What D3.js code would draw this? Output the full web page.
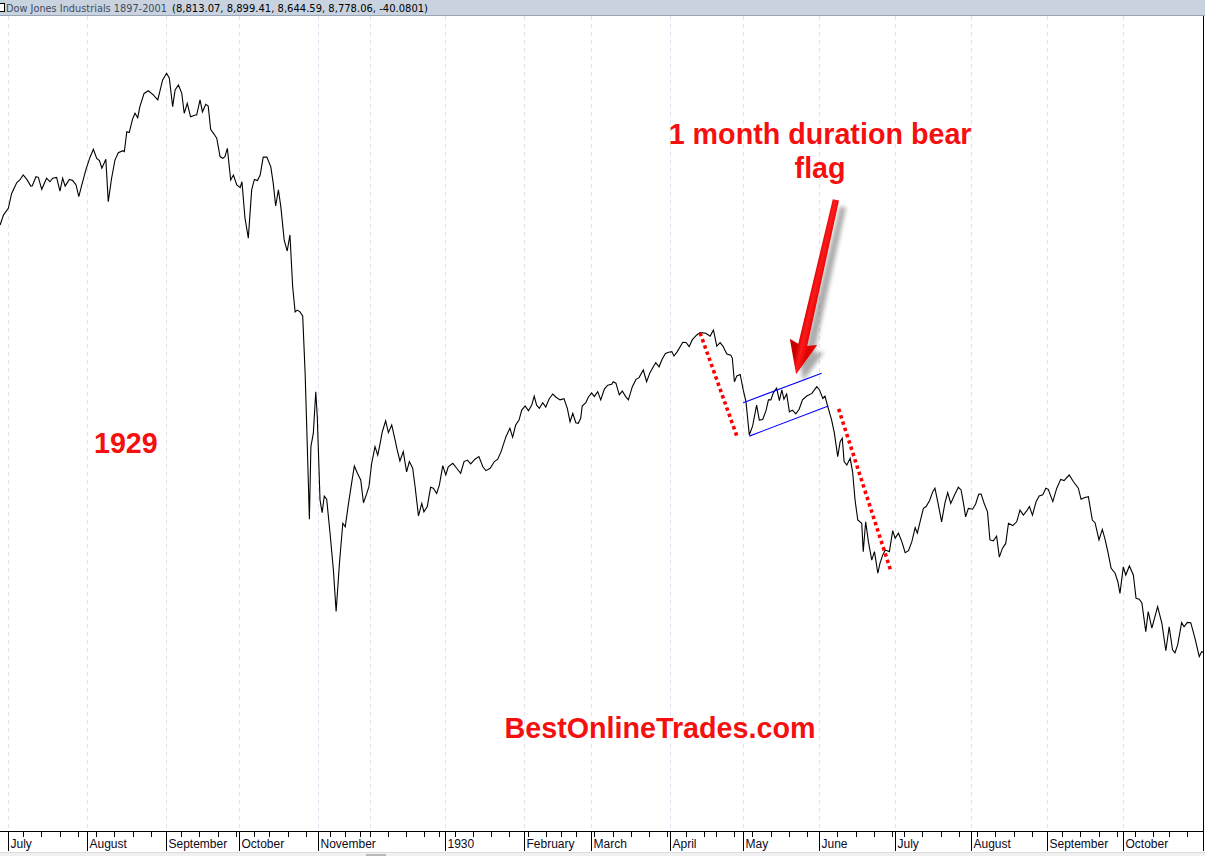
<!DOCTYPE html>
<html><head><meta charset="utf-8">
<script src="https://cdn.jsdelivr.net/npm/d3@7"></script>
<style>html,body{margin:0;padding:0;background:#fff;overflow:hidden}</style>
</head><body><svg id="chart" width="1205" height="856"></svg>
<script>
// ---------------- DATA ----------------
// trading-day index (0 = 1 July 1929) of each traced close
const tradingDay = [
-2.6,-1.5,0.1,1.2,2.9,3.9,5.0,6.2,7.5,8.0,
9.2,10.0,11.1,12.7,13.8,14.7,16.0,17.1,18.0,18.8,
20.2,21.3,22.4,23.3,24.3,25.7,27.0,28.1,29.2,30.1,
30.9,32.2,33.0,34.1,35.2,36.3,37.8,38.3,39.1,39.9,
41.0,41.8,42.7,43.4,44.8,46.2,47.8,49.3,50.9,52.2,
53.1,54.2,55.0,56.1,57.2,58.0,59.0,60.1,61.6,62.1,
63.2,64.0,65.1,65.9,66.7,67.8,68.7,69.8,70.7,71.4,
72.2,73.3,74.2,75.3,76.4,77.0,78.0,79.1,80.2,81.1,
82.1,83.0,84.0,85.2,86.5,87.3,88.1,89.0,89.8,90.9,
91.9,92.8,93.7,94.5,95.2,96.1,97.0,97.8,98.5,99.2,
99.7,100.5,101.3,101.8,102.7,103.4,104.1,104.9,106.0,107.1,
108.0,109.1,110.2,111.0,112.0,113.1,114.0,115.0,116.1,117.0,
118.1,118.8,119.7,120.8,121.7,122.4,123.2,124.3,125.2,126.3,
127.4,128.1,129.0,130.1,131.2,132.1,133.2,134.0,135.1,136.2,
136.9,138.0,139.1,140.0,141.1,142.0,143.1,144.1,144.9,146.4,
147.7,149.0,150.1,151.2,152.3,153.7,155.0,156.3,157.3,158.7,
160.1,161.2,162.3,163.9,165.2,166.1,167.1,168.2,169.1,170.2,
171.3,172.4,173.2,174.0,174.9,176.0,177.0,178.1,179.3,180.4,
181.7,183.0,184.1,185.0,185.9,186.9,187.7,188.5,189.0,190.2,
191.0,192.1,193.0,194.1,195.1,196.3,197.4,198.7,199.2,200.1,
201.2,202.2,203.3,204.2,205.5,206.7,207.7,209.1,210.2,211.3,
212.4,213.2,214.3,215.3,216.4,217.5,218.5,219.2,220.3,222.1,
223.2,224.2,225.2,226.7,227.8,229.7,231.1,232.2,233.3,234.4,
235.3,236.6,237.9,238.4,239.1,239.9,241.0,242.0,242.9,244.0,
245.1,246.4,247.3,248.4,249.5,250.3,251.1,251.9,253.0,253.9,
254.7,255.4,256.3,257.2,258.2,259.3,260.4,261.5,262.9,264.6,
266.2,267.1,268.2,268.9,270.0,271.1,272.0,273.1,273.9,274.6,
275.2,276.1,277.2,278.0,278.8,279.7,281.0,281.5,282.3,283.2,
284.3,285.2,286.3,287.0,287.9,288.7,289.4,290.1,291.2,292.0,
293.1,294.2,295.3,296.4,297.5,298.6,299.3,300.2,301.3,302.2,
303.3,304.4,305.1,305.9,307.3,308.4,309.3,310.3,311.4,312.8,
313.7,314.5,315.2,316.1,317.5,318.5,319.5,320.3,321.3,322.4,
323.2,324.3,325.4,326.3,327.3,328.4,329.3,330.7,332.0,333.1,
334.2,335.3,336.2,337.2,338.4,339.4,340.6,341.6,342.4,343.9,
345.2,346.5,347.6,349.3,350.7,352.3,353.2,354.2,355.6,356.9,
357.8,359.1,360.2,361.1,362.0,363.1,364.4,365.3,366.0,367.1,
367.9,369.1,370.4,371.3,372.3,373.2,374.5,375.3,376.5,378.4,
379.8,381.1,382.2,383.3,384.1,385.0,386.3,387.1,388.2,389.3,
390.7,392.1,392.9,394.0];

// Dow Jones Industrial Average close
const dow = [
329.7,333.1,335.4,340.5,344.2,345.1,346.8,345.3,343.0,343.1,
346.2,346.0,341.9,345.7,344.5,345.7,346.0,341.3,345.7,343.0,
345.3,344.9,343.4,339.4,343.4,348.8,352.9,355.6,352.5,351.7,
349.1,352.2,337.7,345.7,351.9,354.4,355.1,354.8,361.6,361.3,
365.9,367.9,366.4,370.2,374.7,375.6,374.2,372.5,379.3,381.6,
379.9,370.2,375.9,377.6,374.7,367.9,371.3,366.7,367.3,367.3,
372.5,368.4,371.0,370.4,362.4,360.8,359.4,353.1,352.5,353.1,
355.9,345.1,346.8,343.4,342.5,344.5,332.1,325.2,341.7,345.3,
344.9,346.8,352.9,352.9,349.6,344.0,336.2,341.7,336.0,324.6,
320.8,326.3,308.6,300.0,300.6,300.0,298.6,279.0,254.5,229.1,
253.9,258.5,272.7,264.1,235.7,231.3,237.0,235.9,224.3,211.7,
197.5,214.0,227.7,226.5,233.9,241.4,247.3,244.8,242.5,234.7,
237.9,240.2,248.2,253.9,251.0,254.5,259.0,262.7,258.7,261.3,
256.2,252.8,249.0,252.2,245.3,248.8,246.5,240.2,230.2,234.5,
231.6,233.4,240.0,239.7,237.9,240.8,247.4,244.2,247.0,248.2,
246.5,244.8,248.8,249.3,248.0,249.6,250.5,247.0,245.7,246.5,
248.8,249.6,252.2,257.3,260.2,257.1,261.3,263.0,266.4,267.8,
266.2,268.1,271.2,268.1,267.0,268.9,267.4,270.2,271.9,270.8,
269.9,270.3,267.0,262.4,265.3,262.1,261.9,263.6,267.8,268.9,
270.8,272.3,271.0,272.7,269.9,273.6,274.9,275.2,276.1,275.6,
271.6,272.9,271.0,269.9,274.4,276.9,277.5,280.1,276.1,279.2,
281.2,282.6,281.2,283.8,285.8,286.2,286.4,284.9,286.4,289.6,
289.5,288.1,290.4,292.1,292.9,292.7,291.7,293.8,288.3,289.5,
288.3,285.6,285.2,284.2,276.1,278.1,278.6,273.3,269.3,257.9,
261.0,268.1,263.0,263.2,266.2,269.9,269.9,272.3,273.9,269.6,
273.3,270.1,271.9,265.8,266.4,265.1,266.7,269.9,271.2,272.1,
274.4,273.3,270.4,271.2,267.0,263.0,258.5,250.5,255.6,256.8,
248.8,247.6,249.9,245.3,235.7,228.8,227.7,218.0,228.2,221.4,
215.1,218.0,210.6,214.0,216.8,218.5,218.3,218.0,225.2,222.6,
224.3,221.4,217.6,218.3,221.4,226.2,224.3,228.2,232.8,233.4,
235.4,238.5,239.7,235.7,228.2,234.7,238.2,234.5,237.0,240.0,
239.1,234.5,229.9,232.8,232.5,234.3,237.6,237.7,234.5,231.6,
222.0,221.7,223.3,216.1,219.1,220.8,227.7,226.9,228.2,232.2,
230.5,231.9,233.4,230.5,235.1,237.0,237.4,239.7,239.3,235.1,
239.7,242.7,242.3,244.2,241.9,239.7,235.9,236.4,236.8,228.8,
227.9,222.0,225.6,222.2,218.0,212.3,210.6,207.7,203.7,212.8,
210.0,213.1,210.0,202.0,201.7,200.5,190.6,197.5,191.8,199.2,
193.5,184.1,192.3,184.4,183.4,186.1,193.7,192.3,193.8,193.7,
188.3,182.1,183.8,183.4];

// month labels on the time axis (December 1929 has no label on the original)
const monthLabels = ["July","August","September","October","November","","1930","February","March","April","May","June","July","August","September","October"];

// exchange closures (Sundays are always closed)
const holidays = ["1929-07-04","1929-08-31","1929-09-02","1929-10-12","1929-11-01","1929-11-02","1929-11-05","1929-11-09","1929-11-16","1929-11-23","1929-11-28","1929-11-29","1929-11-30","1929-12-25","1930-01-01","1930-02-12","1930-02-22","1930-04-18","1930-04-19","1930-05-30","1930-05-31","1930-07-04","1930-07-05","1930-08-30","1930-09-01","1930-10-13"];

const headerTitle = "Dow Jones Industrials 1897-2001";
const headerValues = "(8,813.07, 8,899.41, 8,644.59, 8,778.06, -40.0801)";

// annotations: [tradingDay, dow]
const dropLines = [[[227.8,292.8],[240.0,257.2]], [[273.4,266.8],[290.7,211.0]]];
const flagChannel = [[[242.0,268.9],[267.8,279.0]], [[244.0,257.5],[270.0,267.8]]];
const arrowTail = [272.5,338.3];
const arrowTip = [259.4,278.7];
const noteTexts = ["1 month duration bear","flag","1929","BestOnlineTrades.com"];
const noteDays  = [267.3,267.3,38.8,214.6];
const noteDow   = [357.4,345.8,251.7,154.3];

// ---------------- LAYOUT ----------------
const W = 1205, H = 856, headerH = 16, axisY = 831, plotRight = 1203;
const svg = d3.select("#chart");
const x = d3.scaleLinear().domain([0,367]).range([8,1123]);
const y = d3.scaleLinear().domain([122.45,406.65]).range([axisY,0]);

// trading calendar
const fmt = d3.timeFormat("%Y-%m-%d");
const hol = new Set(holidays);
const days = d3.timeDay.range(new Date(1929,6,1), new Date(1930,10,1))
  .filter(d => d.getDay() !== 0 && !hol.has(fmt(d)));
const monthStarts = [], weekStarts = [];
days.forEach((d,i) => {
  if (i === 0 || d.getMonth() !== days[i-1].getMonth()) monthStarts.push(i);
  if (i === 0 || +d3.timeMonday.floor(d) !== +d3.timeMonday.floor(days[i-1])) weekStarts.push(i);
});

const defs = svg.append("defs");
defs.append("clipPath").attr("id","plotClip").append("rect")
  .attr("x",0).attr("y",headerH).attr("width",plotRight).attr("height",axisY-headerH);
const blur = defs.append("filter").attr("id","shadowBlur").attr("x","-50%").attr("y","-50%").attr("width","200%").attr("height","200%");
blur.append("feGaussianBlur").attr("stdDeviation",2.2);

svg.append("rect").attr("width",W).attr("height",H).attr("fill","#fff");

// gridlines
svg.append("g").selectAll("line").data(monthStarts).join("line")
  .attr("x1",i=>Math.round(x(i))+0.5).attr("x2",i=>Math.round(x(i))+0.5)
  .attr("y1",headerH).attr("y2",axisY)
  .attr("stroke","#e2e2f5").attr("stroke-width",1).attr("stroke-dasharray","4,4");

// price line
const plot = svg.append("g").attr("clip-path","url(#plotClip)");
const idx = d3.range(Math.min(tradingDay.length, dow.length));
plot.append("path")
  .attr("d", d3.line().x(i=>x(tradingDay[i])).y(i=>y(dow[i]))(idx))
  .attr("fill","none").attr("stroke","#000").attr("stroke-width",1.1)
  .attr("stroke-linejoin","miter");

// flag channel (blue)
plot.append("g").selectAll("line").data(flagChannel).join("line")
  .attr("x1",d=>x(d[0][0])).attr("y1",d=>y(d[0][1]))
  .attr("x2",d=>x(d[1][0])).attr("y2",d=>y(d[1][1]))
  .attr("stroke","#0000ff").attr("stroke-width",1.1);

// red dotted drop lines
plot.append("g").selectAll("line").data(dropLines).join("line")
  .attr("x1",d=>x(d[0][0])).attr("y1",d=>y(d[0][1]))
  .attr("x2",d=>x(d[1][0])).attr("y2",d=>y(d[1][1]))
  .attr("stroke","#ff0000").attr("stroke-width",3.6).attr("stroke-dasharray","3.4,3.2");

// arrow
(function(){
  const p0 = [x(arrowTail[0]), y(arrowTail[1])], p1 = [x(arrowTip[0]), y(arrowTip[1])];
  const dx = p1[0]-p0[0], dy = p1[1]-p0[1], L = Math.hypot(dx,dy);
  const u = [dx/L, dy/L], n = [-u[1], u[0]];
  const headLen = 30, headHalf = 14, shaftTail = 3.2, shaftHead = 4.6;
  const b = [p1[0]-u[0]*headLen, p1[1]-u[1]*headLen];
  const pt = (p,k,m=0) => [p[0]+n[0]*k+u[0]*m, p[1]+n[1]*k+u[1]*m];
  const poly = [pt(p0,shaftTail), pt(b,shaftHead), pt(b,headHalf,-3), p1, pt(b,-headHalf,-3), pt(b,-shaftHead), pt(p0,-shaftTail)];
  const pathStr = "M" + poly.map(p=>p.join(",")).join("L") + "Z";
  svg.append("path").attr("d",pathStr).attr("transform","translate(7,7)")
    .attr("fill","#000").attr("opacity",0.33).attr("filter","url(#shadowBlur)");
  const g = defs.append("linearGradient").attr("id","arrowGrad").attr("gradientUnits","userSpaceOnUse")
    .attr("x1",pt(p0,6)[0]).attr("y1",pt(p0,6)[1]).attr("x2",pt(p0,-6)[0]).attr("y2",pt(p0,-6)[1]);
  g.append("stop").attr("offset",0).attr("stop-color","#c80000");
  g.append("stop").attr("offset",0.45).attr("stop-color","#ff1a1a");
  g.append("stop").attr("offset",1).attr("stop-color","#e00000");
  svg.append("path").attr("d",pathStr).attr("fill","url(#arrowGrad)");
})();

// texts
svg.append("g").selectAll("text").data(d3.range(noteTexts.length)).join("text")
  .attr("x",i=>x(noteDays[i])).attr("y",i=>y(noteDow[i]))
  .attr("text-anchor","middle")
  .attr("font-family","'Liberation Sans', Arial, sans-serif")
  .attr("font-weight","bold").attr("font-size","28.7px")
  .attr("fill","#f51010").text(i=>noteTexts[i]);

// axis
const ax = svg.append("g");
ax.append("line").attr("x1",0).attr("x2",plotRight+1).attr("y1",axisY+0.5).attr("y2",axisY+0.5)
  .attr("stroke","#000").attr("stroke-width",1);
ax.append("g").selectAll("line").data(weekStarts).join("line")
  .attr("x1",i=>Math.round(x(i))+0.5).attr("x2",i=>Math.round(x(i))+0.5)
  .attr("y1",axisY).attr("y2",axisY+6).attr("stroke","#000");
const labelled = monthStarts.map((i,k)=>({i,label:monthLabels[k]})).filter(d=>d.label);
ax.append("g").selectAll("line").data(labelled).join("line")
  .attr("x1",d=>Math.round(x(d.i))+0.5).attr("x2",d=>Math.round(x(d.i))+0.5)
  .attr("y1",axisY).attr("y2",axisY+20).attr("stroke","#000");
ax.append("g").selectAll("text").data(labelled).join("text")
  .attr("x",d=>Math.round(x(d.i))+2.5).attr("y",axisY+17)
  .attr("font-family","'Liberation Sans', Arial, sans-serif").attr("font-size","12px")
  .attr("fill","#0b0b22").text(d=>d.label);

// right border
svg.append("line").attr("x1",plotRight+0.5).attr("x2",plotRight+0.5)
  .attr("y1",headerH).attr("y2",axisY+20).attr("stroke","#000");

// bottom scroll strip
svg.append("rect").attr("x",0).attr("y",852).attr("width",W).attr("height",4).attr("fill","#f0f0f0");
svg.append("line").attr("x1",0).attr("x2",W).attr("y1",852.5).attr("y2",852.5).attr("stroke","#dcdcdc");
svg.append("rect").attr("x",366).attr("y",854).attr("width",20).attr("height",2).attr("fill","#b9b9b9");

// header bar
svg.append("rect").attr("x",0).attr("y",0).attr("width",W).attr("height",headerH).attr("fill","#c9d3df");
svg.append("line").attr("x1",0).attr("x2",W).attr("y1",headerH-0.5).attr("y2",headerH-0.5).attr("stroke","#9aa6b6");
svg.append("rect").attr("x",-3.5).attr("y",3.5).attr("width",8).attr("height",8).attr("fill","#fff").attr("stroke","#000");
svg.append("text").attr("x",6).attr("y",12).attr("font-family","'DejaVu Sans', sans-serif").attr("font-size","11px")
  .attr("fill","#3d4c60").attr("textLength",161).attr("lengthAdjust","spacingAndGlyphs").text(headerTitle);
svg.append("text").attr("x",172).attr("y",12).attr("font-family","'DejaVu Sans', sans-serif").attr("font-size","11px")
  .attr("fill","#000").attr("textLength",256).attr("lengthAdjust","spacingAndGlyphs").text(headerValues);
</script></body></html>
